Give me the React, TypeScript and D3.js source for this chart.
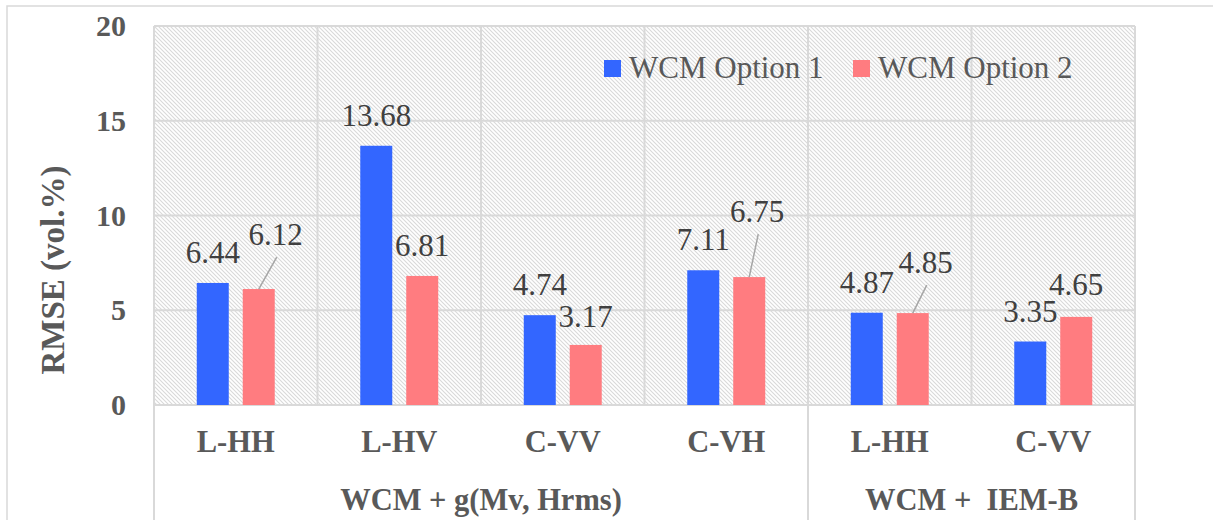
import React from "react";
import * as d3 from "d3";

const categories = ["L-HH", "L-HV", "C-VV", "C-VH", "L-HH", "C-VV"];
const groups = [
  { name: "WCM + g(Mv, Hrms)", start: 0, end: 4 },
  { name: "WCM +  IEM-B", start: 4, end: 6 },
];
const seriesNames = ["WCM Option 1", "WCM Option 2"];
const option1 = [6.44, 13.68, 4.74, 7.11, 4.87, 3.35];
const option2 = [6.12, 6.81, 3.17, 6.75, 4.85, 4.65];
const yTicks = [0, 5, 10, 15, 20];

// label placement tweaks (series index, category index) -> offset from default
const labelTweaks: Record<string, { dx: number; dy: number; leader: boolean }> = {
  "1-0": { dx: 17, dy: -24, leader: true },
  "1-3": { dx: 8, dy: -35, leader: true },
  "1-4": { dx: 13, dy: -20, leader: true },
  "1-5": { dx: 0, dy: -2, leader: false },
  "1-2": { dx: 0, dy: 2, leader: false },
};

const W = 1213;
const H = 520;
const left = 154;
const right = 1135;
const top = 26;
const bottom = 405;
const colors = ["#3366FF", "#FF7C80"];
const textColor = "#595959";
const gridColor = "#d9d9d9";
const tf = { fontFamily: `"Liberation Serif"` };

export default function App() {
  const x0 = d3.scaleBand<number>().domain(d3.range(categories.length)).range([left, right]).padding(0);
  const x1 = d3
    .scaleBand<number>()
    .domain([0, 1])
    .range([0, x0.bandwidth()])
    .paddingInner(0.304)
    .paddingOuter(0.93);
  const y = d3.scaleLinear().domain([0, 20]).range([bottom, top]);
  const series = [option1, option2];
  const boundaries = d3.range(categories.length + 1).map((i) => left + i * x0.step());

  return (
    <div style={{ position: "fixed", left: 0, top: 0 }}>
      <svg width={W} height={H} style={{ display: "block" }}>
        <defs>
          <pattern id="hatch" patternUnits="userSpaceOnUse" width={4} height={4}>
            <rect width={4} height={4} fill="#ffffff" />
            <path d="M-1,-1 L5,5 M3,-1 L5,1 M-1,3 L1,5" stroke="#d9d9d9" strokeWidth={1.1} />
          </pattern>
        </defs>
        <rect x={0} y={0} width={W} height={H} fill="#fff" />
        <rect x={7} y={6} width={W + 20} height={H + 20} fill="none" stroke={gridColor} strokeWidth={1.5} />
        <rect x={left} y={top} width={right - left} height={bottom - top} fill="url(#hatch)" />
        {yTicks.map((t) => (
          <line key={"g" + t} x1={left} x2={right} y1={y(t)} y2={y(t)} stroke={gridColor} strokeWidth={2} />
        ))}
        {boundaries.map((bx, i) => (
          <line key={"v" + i} x1={bx} x2={bx} y1={top} y2={bottom} stroke={gridColor} strokeWidth={2} />
        ))}
        {[0, ...groups.map((g) => g.end)].map((ci) => (
          <line
            key={"s" + ci}
            x1={boundaries[ci]}
            x2={boundaries[ci]}
            y1={bottom}
            y2={H}
            stroke={gridColor}
            strokeWidth={2}
          />
        ))}
        {yTicks.map((t) => (
          <text
            key={"yt" + t}
            x={126}
            y={y(t) + 10}
            textAnchor="end"
            fontSize={30}
            fontWeight="bold"
            fill={textColor}
            style={tf}
          >
            {t}
          </text>
        ))}
        <text
          transform={`translate(64,270) rotate(-90)`}
          textAnchor="middle"
          fontSize={33}
          fontWeight="bold"
          fill={textColor}
          style={tf}
        >
          RMSE (vol.%)
        </text>
        {series.map((vals, si) =>
          vals.map((v, ci) => (
            <rect
              key={`b${si}-${ci}`}
              x={(x0(ci) as number) + (x1(si) as number)}
              y={y(v)}
              width={x1.bandwidth()}
              height={bottom - y(v)}
              fill={colors[si]}
            />
          ))
        )}
        {series.map((vals, si) =>
          vals.map((v, ci) => {
            const cx = (x0(ci) as number) + (x1(si) as number) + x1.bandwidth() / 2;
            const tw = labelTweaks[`${si}-${ci}`] || { dx: 0, dy: 0, leader: false };
            const lx = cx + tw.dx;
            const ly = y(v) - 20 + tw.dy;
            return (
              <g key={`l${si}-${ci}`}>
                {tw.leader && (
                  <line x1={cx} y1={y(v)} x2={lx + 1} y2={ly + 12} stroke="#a6a6a6" strokeWidth={1.5} />
                )}
                <text x={lx} y={ly} textAnchor="middle" fontSize={31} fill="#404040" style={tf}>
                  {v.toFixed(2)}
                </text>
              </g>
            );
          })
        )}
        {categories.map((c, i) => (
          <text
            key={"c" + i}
            x={(x0(i) as number) + x0.bandwidth() / 2}
            y={452}
            textAnchor="middle"
            fontSize={30.5}
            fontWeight="bold"
            fill={textColor}
            style={tf}
          >
            {c}
          </text>
        ))}
        {groups.map((g) => (
          <text
            key={g.name}
            x={(boundaries[g.start] + boundaries[g.end]) / 2}
            y={510}
            textAnchor="middle"
            fontSize={30.5}
            fontWeight="bold"
            fill={textColor}
            style={{ ...tf, whiteSpace: "pre" }}
          >
            {g.name}
          </text>
        ))}
        {seriesNames.map((n, i) => {
          const lx = [604, 853][i];
          return (
            <g key={n}>
              <rect x={lx} y={60} width={17} height={17} fill={colors[i]} />
              <text x={lx + 25} y={78} fontSize={31} fill={textColor} style={tf}>
                {n}
              </text>
            </g>
          );
        })}
      </svg>
    </div>
  );
}
